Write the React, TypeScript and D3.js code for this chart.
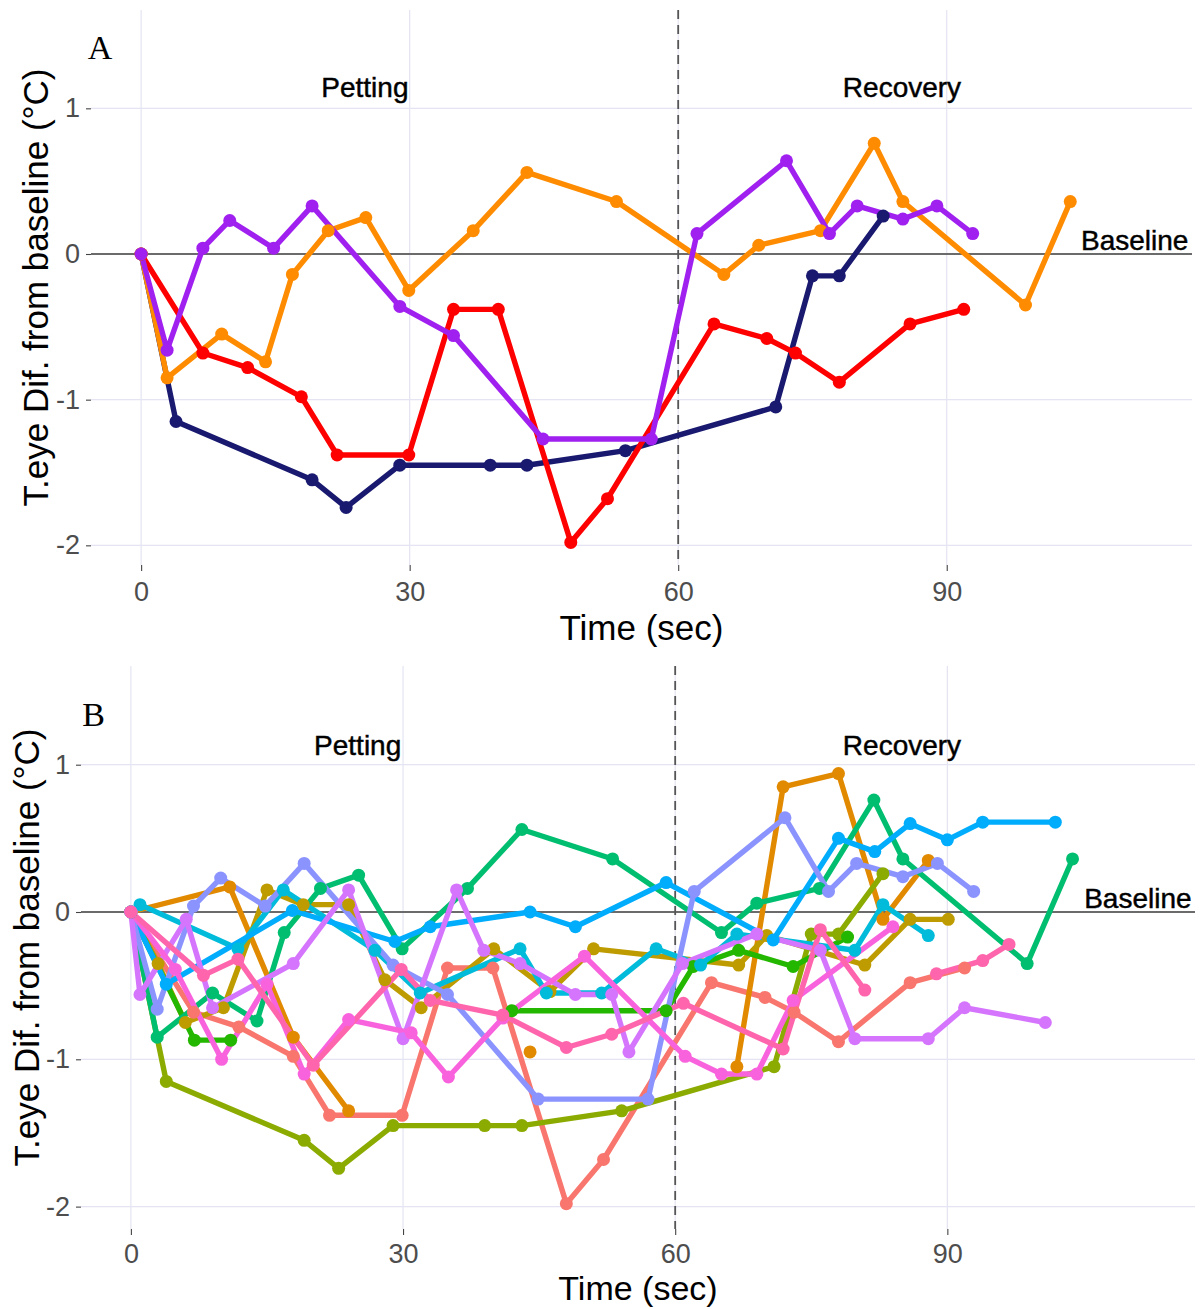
import * as d3 from "d3";
import {useEffect, useRef} from "react";

type Pt = [number, number] | null;

// dogs shown in panel A (same animals reappear in panel B)
const dogNavy: Pt[] = [[0, 0], [3.9, -1.15], [19.1, -1.55], [22.9, -1.74], [28.9, -1.45], [39, -1.45], [43.1, -1.45], [54.1, -1.35], [70.9, -1.05], [75, -0.15], [78, -0.15], [82.9, 0.26]];
const dogRed: Pt[] = [[0, 0], [6.9, -0.68], [11.9, -0.78], [17.9, -0.98], [21.9, -1.38], [29.9, -1.38], [34.9, -0.38], [39.9, -0.38], [48, -1.98], [52.1, -1.68], [64, -0.48], [69.9, -0.58], [73.1, -0.68], [78, -0.88], [85.9, -0.48], [91.9, -0.38]];
const dogOrange: Pt[] = [[0, 0], [2.9, -0.85], [9, -0.55], [13.9, -0.74], [16.9, -0.14], [20.9, 0.16], [25.1, 0.25], [29.9, -0.25], [37.1, 0.16], [43.1, 0.56], [53.1, 0.36], [65.1, -0.14], [69, 0.06], [75.9, 0.16], [81.9, 0.76], [85.1, 0.36], [98.8, -0.35], [103.8, 0.36]];
const dogPurple: Pt[] = [[0, 0], [2.9, -0.66], [6.9, 0.04], [9.9, 0.23], [14.8, 0.04], [19.1, 0.33], [28.9, -0.36], [34.9, -0.56], [44.9, -1.27], [57, -1.27], [62.1, 0.14], [72.1, 0.64], [76.9, 0.14], [80, 0.33], [85.1, 0.24], [88.9, 0.33], [92.9, 0.14]];

// other dogs, panel B only (null = missing reading)
const dogB2: Pt[] = [[0, 0], [10.9, 0.17], [17.9, -0.85], [24, -1.35], null, [44, -0.95], null, [66.8, -1.05], [71.9, 0.85], [78, 0.94], [82.9, -0.05], [87.9, 0.35]];
const dogB3: Pt[] = [[0, 0], [3, -0.35], [6, -0.75], [10.2, -0.65], [15, 0.15], [19, 0.05], [24, 0.05], [28, -0.46], [32, -0.65], [40, -0.25], [46.2, -0.54], [51, -0.25], [67, -0.36], [70.1, -0.16], [80.9, -0.36], [85.9, -0.05], [90.1, -0.05]];
const dogB5: Pt[] = [[0, 0], [7, -0.87], [11, -0.87], null, [42, -0.67], [59, -0.67], [62, -0.37], [67, -0.26], [73, -0.37], [79, -0.17]];
const dogB8: Pt[] = [[0, 0], [1, 0.05], [11.8, -0.25], [16.8, 0.15], [26.9, -0.26], [31.9, -0.55], [42.9, -0.25], [45.8, -0.55], [51.9, -0.55], [57.9, -0.25], [62.8, -0.36], [66.8, -0.15], [79.8, -0.26], [82.9, 0.05], [87.9, -0.16]];
const dogB9: Pt[] = [[0, 0], [3.9, -0.49], [17.8, 0.01], [29.1, -0.2], [33, -0.1], [44, 0], [49, -0.1], [59, 0.2], [70.8, -0.19], [78, 0.5], [82, 0.41], [85.9, 0.6], [90, 0.49], [93.9, 0.61], [101.9, 0.61]];
const dogB11: Pt[] = [[0, 0], [1, -0.56], [6.1, -0.05], [9, -0.65], [17.9, -0.35], [24, 0.15], [30, -0.86], [35.9, 0.15], [38.9, -0.26], [42.9, -0.35], [49, -0.56], [53, -0.56], [54.9, -0.95], [60.8, -0.35], [69, -0.15], [76, -0.26], [79.8, -0.86], [87.9, -0.86], [91.9, -0.65], [100.8, -0.75]];
const dogB12: Pt[] = [[0, 0], [4.9, -0.39], [10, -1.0], [15, -0.49], [19.1, -1.1], [24, -0.73], [30.9, -0.82], [35, -1.12], [41, -0.72], [50, -0.3], [61.1, -0.98], [65.1, -1.1], [69, -1.1], [73, -0.6], [84, -0.1]];
const dogB13: Pt[] = [[0, 0], [8, -0.43], [11.8, -0.32], [20.1, -1.04], [29.8, -0.39], [33, -0.6], [41, -0.7], [48, -0.92], [53, -0.83], [60.9, -0.62], [71.9, -0.93], [76, -0.12], [80.9, -0.53], null, [88.8, -0.42], [93.9, -0.33], [96.8, -0.22]];

const xTicks = [0, 30, 60, 90];
const yTicks = [-2, -1, 0, 1];
const phaseLabels = ["Petting", "Recovery"];

const seriesA = [
    {values: dogNavy, color: "#191970"},
    {values: dogRed, color: "#FF0000"},
    {values: dogOrange, color: "#FF8C00"},
    {values: dogPurple, color: "#A020F0"},
];

const seriesB = [
    {values: dogRed, color: "#F8766D"},
    {values: dogB2, color: "#E18A00"},
    {values: dogB3, color: "#BE9C00"},
    {values: dogNavy, color: "#8CAB00"},
    {values: dogB5, color: "#24B700"},
    {values: dogOrange, color: "#00BE70"},
    {values: dogB8, color: "#00BBDA"},
    {values: dogB9, color: "#00ACFC"},
    {values: dogPurple, color: "#8B93FF"},
    {values: dogB11, color: "#D575FE"},
    {values: dogB12, color: "#F962DD"},
    {values: dogB13, color: "#FF65AC"},
];

const sans = "'Liberation Sans', Arial, sans-serif";

function drawPanel(svg, o) {
    const x = d3.scaleLinear().domain(o.xDomain).range([o.left, o.right]);
    const y = d3.scaleLinear().domain(o.yDomain).range([o.top, o.bottom]);
    const g = svg.append("g");

    // grid
    g.append("g").selectAll("line").data(xTicks).join("line")
        .attr("x1", d => x(d)).attr("x2", d => x(d))
        .attr("y1", o.top).attr("y2", o.bottom)
        .attr("stroke", "#E4E4F2").attr("stroke-width", 1.2);
    g.append("g").selectAll("line").data(yTicks).join("line")
        .attr("x1", o.left).attr("x2", o.right)
        .attr("y1", d => y(d)).attr("y2", d => y(d))
        .attr("stroke", "#E4E4F2").attr("stroke-width", 1.2);

    // axes
    const ax = g.append("g")
        .attr("transform", `translate(0,${o.bottom})`)
        .call(d3.axisBottom(x).tickValues(xTicks).tickSize(6).tickPadding(o.tickPad).tickFormat(d => String(d)));
    const ay = g.append("g")
        .attr("transform", `translate(${o.left},0)`)
        .call(d3.axisLeft(y).tickValues(yTicks).tickSize(5).tickPadding(6).tickFormat(d => String(d)));
    [ax, ay].forEach(a => {
        a.select(".domain").remove();
        a.attr("font-size", 27).attr("font-family", sans);
        a.selectAll("line").attr("stroke", "#444").attr("stroke-width", 1.1);
        a.selectAll("text").attr("fill", "#4D4D4D");
    });

    // baseline and end of petting
    g.append("line")
        .attr("x1", o.left).attr("x2", o.right)
        .attr("y1", y(0)).attr("y2", y(0))
        .attr("stroke", "#6B6B6B").attr("stroke-width", 2);
    g.append("line")
        .attr("x1", x(60)).attr("x2", x(60))
        .attr("y1", o.top).attr("y2", o.bottom)
        .attr("stroke", "#555").attr("stroke-width", 1.8)
        .attr("stroke-dasharray", "9,6");

    // lines, then points
    const line = d3.line<Pt>()
        .defined(d => d !== null)
        .x(d => x(d[0]))
        .y(d => y(d[1]));
    g.append("g").selectAll("path").data(o.series).join("path")
        .attr("d", s => line(s.values))
        .attr("fill", "none")
        .attr("stroke", s => s.color)
        .attr("stroke-width", 5.4)
        .attr("stroke-linejoin", "round");
    g.append("g").selectAll("g").data(o.series).join("g")
        .attr("fill", s => s.color)
        .selectAll("circle")
        .data(s => s.values.filter(d => d !== null))
        .join("circle")
        .attr("cx", d => x(d[0]))
        .attr("cy", d => y(d[1]))
        .attr("r", o.r);

    // annotations
    const ann = g.append("g").attr("font-family", sans).attr("font-size", 28)
        .attr("fill", "#000").attr("stroke", "#000").attr("stroke-width", 0.45)
        .attr("text-anchor", "middle").attr("dominant-baseline", "central");
    ann.append("text").attr("x", x(o.petting[0])).attr("y", y(o.petting[1])).text(phaseLabels[0]);
    ann.append("text").attr("x", x(o.recovery[0])).attr("y", y(o.recovery[1])).text(phaseLabels[1]);
    ann.append("text").attr("x", x(o.baseline[0])).attr("y", y(o.baseline[1])).text("Baseline");

    g.append("text")
        .attr("x", x(o.tag[0])).attr("y", y(o.tag[1]))
        .attr("text-anchor", "middle").attr("dominant-baseline", "central")
        .attr("font-family", "'Liberation Serif', 'Times New Roman', serif")
        .attr("font-size", 34)
        .text(o.tagText);

    // axis titles
    g.append("text")
        .attr("x", (o.left + o.right) / 2).attr("y", o.bottom + o.titleDrop)
        .attr("text-anchor", "middle")
        .attr("font-family", sans).attr("font-size", o.titleSize)
        .text("Time (sec)");
    g.append("text")
        .attr("transform", `translate(${o.left - o.titleGap},${(o.top + o.bottom) / 2}) rotate(-90)`)
        .attr("text-anchor", "middle")
        .attr("font-family", sans).attr("font-size", 35)
        .text("T.eye Dif. from baseline (°C)");
}

export default function App() {
    const svgRef = useRef(null);

    useEffect(() => {
        if (!svgRef.current) return;
        document.body.style.margin = "0";
        const svg = d3.select(svgRef.current);
        svg.selectAll("*").remove();

        svg.append("rect").attr("width", 1204).attr("height", 1309).attr("fill", "#fff");

        drawPanel(svg, {
            left: 91, right: 1192, top: 10, bottom: 565,
            xDomain: [-5.6, 117.4], yDomain: [1.675, -2.135],
            series: seriesA, r: 6.5, titleGap: 43,
            tickPad: 11, titleDrop: 75, titleSize: 35,
            petting: [25, 1.14], recovery: [85, 1.14], baseline: [111, 0.09],
            tag: [-4.6, 1.42], tagText: "A",
        });
        drawPanel(svg, {
            left: 81, right: 1195, top: 666, bottom: 1229,
            xDomain: [-5.5, 117.3], yDomain: [1.67, -2.152],
            series: seriesB, r: 6.5, titleGap: 42,
            tickPad: 9, titleDrop: 71, titleSize: 34,
            petting: [25, 1.13], recovery: [85, 1.13], baseline: [111, 0.09],
            tag: [-4.1, 1.34], tagText: "B",
        });
    }, []);

    return <svg ref={svgRef} width={1204} height={1309} style={{display: "block"}}></svg>;
}
